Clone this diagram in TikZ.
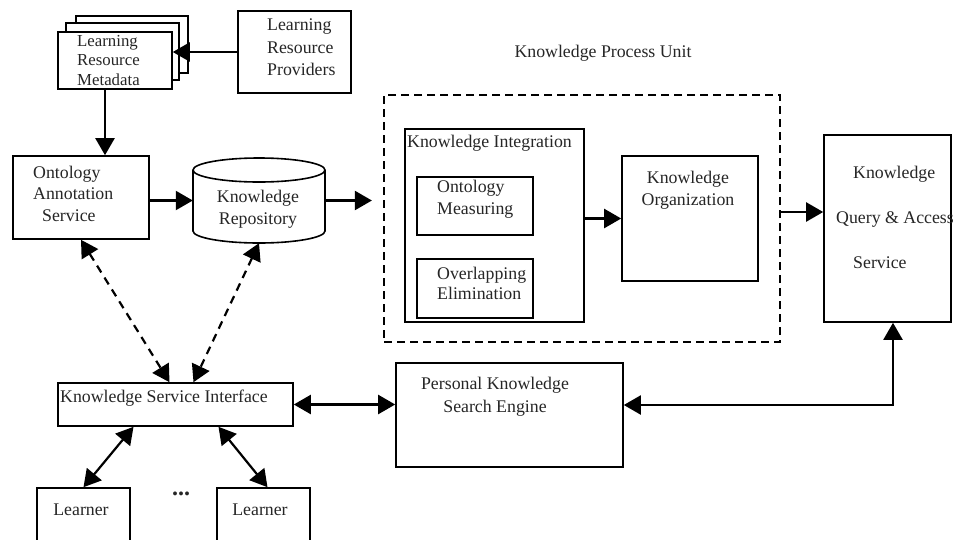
\documentclass[tikz,border=0pt]{standalone}
\usepackage{fontspec}
\setmainfont{Liberation Serif}
\usetikzlibrary{arrows.meta}
\begin{document}
\begin{tikzpicture}[x=1pt,y=-1pt,
  box/.style={draw, line width=1.6pt, fill=white, inner sep=0pt},
  thickbox/.style={box, line width=2.2pt},
  txt/.style={inner sep=0pt, text=black!85, font=\fontsize{17.8}{22}\selectfont},
  tip/.tip={Triangle[length=17pt,width=19pt]},
  arr/.style={line width=2.2pt, -tip},
  darr/.style={line width=2.2pt, tip-tip},
  dashedarr/.style={darr, dash pattern=on 8pt off 6pt}
]
\useasboundingbox (0,0) rectangle (954,539);

% stacked metadata sheets
\node[box, minimum width=112, minimum height=57] (meta3) at (132,44.5) {};
\node[box, minimum width=113, minimum height=57] (meta2) at (122.5,51.5) {};
\node[box, minimum width=114, minimum height=57] (meta1) at (115,60.5) {};
\begin{scope}
  \clip (meta1.north west) rectangle ([yshift=-1]meta1.south east);
  \node[txt, font=\fontsize{16.8}{19.5}\selectfont, align=left, anchor=north west] (metatxt) at (77,35) {Learning\\Resource\\Metadata};
\end{scope}

\node[box, minimum width=113, minimum height=82] (prov) at (294.5,52) {};
\node[txt, align=left, anchor=west, font=\fontsize{17.8}{22.5}\selectfont] (provtxt) at (267,47.5) {Learning\\Resource\\Providers};

% annotation and repository
\node[box, minimum width=136, minimum height=83] (oas) at (81,197.5) {};
\node[txt, align=left, anchor=west, font=\fontsize{17.8}{21.5}\selectfont] (oastxt) at (33,193.5) {Ontology\\Annotation\\\hspace*{9pt}Service};

\node[inner sep=0, minimum width=132, minimum height=85] (kr) at (259,200.5) {};
\draw[line width=1.6pt, fill=white] (193,170) -- (193,231)
  .. controls (193,237.6) and (222.5,243) .. (259,243)
  .. controls (295.5,243) and (325,237.6) .. (325,231) -- (325,170);
\draw[line width=1.6pt, fill=white] (259,170) ellipse [x radius=66pt, y radius=12pt];
\node[txt, align=center] (krtxt) at (258,209) {Knowledge\\Repository};

% knowledge process unit
\node[draw, line width=2.2pt, dash pattern=on 8pt off 5pt, inner sep=0, minimum width=396, minimum height=247] (kpu) at (582,218.5) {};
\node[txt] (kputxt) at (603,53) {Knowledge Process Unit};

\node[box, minimum width=179, minimum height=193] (ki) at (494.5,225.5) {};
\node[txt, anchor=west] (kitxt) at (407,143) {Knowledge Integration};
\node[thickbox, minimum width=116, minimum height=58] (om) at (475,206) {};
\node[txt, align=left, anchor=west] (omtxt) at (437,199) {Ontology\\Measuring};
\node[thickbox, minimum width=116, minimum height=59] (oe) at (475,288.5) {};
\node[txt, align=left, anchor=west, font=\fontsize{17.8}{20}\selectfont] (oetxt) at (437,283) {Overlapping\\Elimination};

\node[box, minimum width=136, minimum height=125] (ko) at (690,218.5) {};
\node[txt, align=center] (kotxt) at (688,190) {Knowledge\\Organization};

% query and access service
\node[box, minimum width=127, minimum height=187] (kqas) at (887.5,228.5) {};
\node[txt, align=left, anchor=west, font=\fontsize{17.8}{45}\selectfont] (kqastxt) at (836,217) {\hspace*{17pt}Knowledge\\Query \& Access\\\hspace*{17pt}Service};

% interface, search engine, learners
\node[box, minimum width=235, minimum height=43] (ksi) at (175.5,404.5) {};
\node[txt, anchor=west] (ksitxt) at (60,398) {Knowledge Service Interface};

\node[box, minimum width=227, minimum height=104] (pkse) at (509.5,415) {};
\node[txt, align=center, font=\fontsize{17.8}{23}\selectfont] (pksetxt) at (495,396.5) {Personal Knowledge\\Search Engine};

\node[box, minimum width=93, minimum height=62] (l1) at (83.5,519) {};
\node[txt] (l1txt) at (81,510) {Learner};
\node[box, minimum width=93, minimum height=62] (l2) at (263.5,519) {};
\node[txt] (l2txt) at (260,510) {Learner};
\node[txt, font=\fontsize{24}{24}\selectfont\bfseries] (dots) at (181,494) {...};

% connectors
\coordinate (kpuin) at ([xshift=-11]kpu.west |- kr.east);
\coordinate (qin) at (0,212);
\coordinate (pk) at (893,405);

\draw[arr] (prov.west) -- (meta1.east |- prov.west);
\draw[arr] ([xshift=-10]meta1.south) -- ([xshift=-10]meta1.south |- oas.north);
\draw[arr] (oas.east |- kr.east) -- (kr.west |- kr.east);
\draw[arr] (kr.east) -- (kpuin);
\draw[arr] (ki.east |- ko.west) -- (ko.west);
\draw[arr] (kpu.east |- qin) -- (kqas.west |- qin);
\draw[darr] (kqas.south -| pk) -- (pk) -- (pkse.east |- pk);
\draw[darr] (ksi.east) -- (ksi.east -| pkse.west);
\draw[dashedarr] (oas.south) -- ([xshift=-6]ksi.north);
\draw[dashedarr] (kr.south) -- ([xshift=18]ksi.north);
\draw[darr] ([xshift=-42]ksi.south) -- (l1.north);
\draw[darr] ([xshift=43]ksi.south) -- ([xshift=4]l2.north);
\end{tikzpicture}
\end{document}
